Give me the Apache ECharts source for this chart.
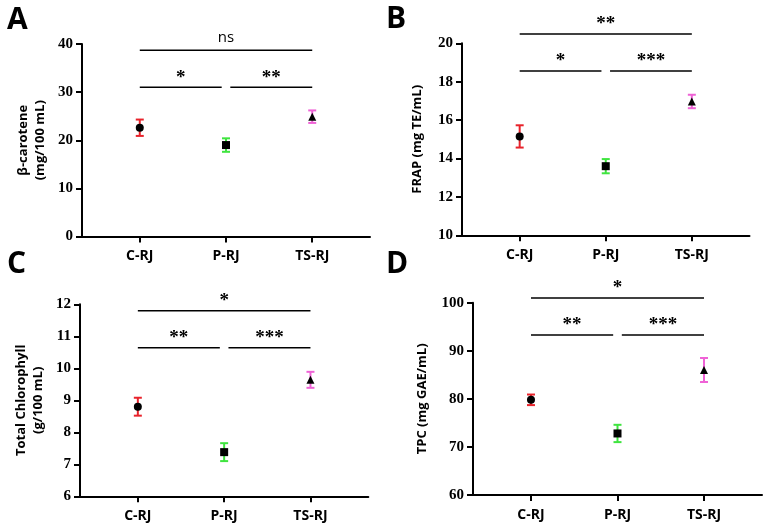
<!DOCTYPE html>
<html>
<head>
<meta charset="utf-8">
<script src="https://cdn.jsdelivr.net/npm/echarts@6/dist/echarts.min.js"></script>
<style>
  html, body { margin: 0; padding: 0; background: #fff; }
  #chart { width: 767px; height: 529px; }
</style>
</head>
<body>
<div id="chart"></div>
<script>
// groups on the x axis
const categories = ["C-RJ", "P-RJ", "TS-RJ"];

// mean ± error for each panel
const betaMean = [22.6, 19.0, 24.9];
const betaErr = [1.7, 1.4, 1.3];
const frapMean = [15.15, 13.6, 16.97];
const frapErr = [0.58, 0.37, 0.35];
const chlMean = [8.8, 7.38, 9.64];
const chlErr = [0.28, 0.28, 0.25];
const tpcMean = [79.8, 72.8, 86.0];
const tpcErr = [1.1, 1.8, 2.5];

// significance brackets: [fromGroup, toGroup, level]
const betaBrackets = [[1, 3, 38.7], [1, 1.95, 31.0], [2.05, 3, 31.0]];
const betaSig = ["ns", "*", "**"];
const frapBrackets = [[1, 3, 20.48], [1, 1.95, 18.56], [2.05, 3, 18.56]];
const frapSig = ["**", "*", "***"];
const chlBrackets = [[1, 3, 11.8], [1, 1.95, 10.64], [2.05, 3, 10.64]];
const chlSig = ["*", "**", "***"];
const tpcBrackets = [[1, 3, 101.0], [1, 1.95, 93.3], [2.05, 3, 93.3]];
const tpcSig = ["*", "**", "***"];

const ERR_COLORS = ["#e8232b", "#3fe43f", "#ef62d6"];
const SYMBOLS = ["circle", "rect", "triangle"];

const panels = [
  { letter: "A", name: "β-carotene\n(mg/100 mL)", mean: betaMean, err: betaErr,
    brackets: betaBrackets, sig: betaSig, min: 0, max: 40, interval: 10,
    grid: { left: 82, top: 44, width: 288, height: 192.5 }, nameGap: 33, lx: 7, ly: 5 },
  { letter: "B", name: "FRAP (mg TE/mL)", mean: frapMean, err: frapErr,
    brackets: frapBrackets, sig: frapSig, min: 10, max: 20, interval: 2,
    grid: { left: 462, top: 43.3, width: 287.5, height: 192 }, nameGap: 36, lx: 386, ly: 4 },
  { letter: "C", name: "Total Chlorophyll\n(g/100 mL)", mean: chlMean, err: chlErr,
    brackets: chlBrackets, sig: chlSig, min: 6, max: 12, interval: 1,
    grid: { left: 80, top: 304.3, width: 288.3, height: 192 }, nameGap: 33, lx: 7, ly: 249 },
  { letter: "D", name: "TPC (mg GAE/mL)", mean: tpcMean, err: tpcErr,
    brackets: tpcBrackets, sig: tpcSig, min: 60, max: 100, interval: 10,
    grid: { left: 473, top: 302.7, width: 289, height: 192.3 }, nameGap: 42, lx: 386, ly: 249 },
];

const grids = [], xAxes = [], yAxes = [], series = [], graphics = [];

panels.forEach((p, i) => {
  grids.push(p.grid);

  xAxes.push({
    gridIndex: i,
    type: "value",
    min: 0.33,
    max: 3.67,
    axisLine: { lineStyle: { color: "#000", width: 2 } },
    axisTick: { customValues: [1, 2, 3], length: 6, lineStyle: { color: "#000", width: 2 } },
    axisLabel: {
      customValues: [1, 2, 3],
      formatter: (v) => categories[Math.round(v) - 1],
      color: "#000",
      fontFamily: "Open Sans",
      fontWeight: "bold",
      fontSize: 14,
      margin: 13,
    },
    splitLine: { show: false },
  });

  yAxes.push({
    gridIndex: i,
    type: "value",
    min: p.min,
    max: p.max,
    interval: p.interval,
    name: p.name,
    nameLocation: "middle",
    nameRotate: 90,
    nameGap: p.nameGap,
    nameTextStyle: {
      color: "#000",
      fontFamily: "Open Sans",
      fontWeight: "bold",
      fontSize: 13,
      lineHeight: 17,
    },
    axisLine: { show: true, lineStyle: { color: "#000", width: 2 } },
    axisTick: { show: true, length: 6, lineStyle: { color: "#000", width: 2 } },
    axisLabel: {
      color: "#000",
      fontFamily: "Liberation Serif",
      fontWeight: "bold",
      fontSize: 15,
      margin: 9,
    },
    splitLine: { show: false },
  });

  // error bars
  series.push({
    type: "custom",
    xAxisIndex: i,
    yAxisIndex: i,
    data: p.mean.map((m, k) => [k + 1, m - p.err[k], m + p.err[k]]),
    encode: { x: 0, y: [1, 2] },
    z: 2,
    renderItem: (params, api) => {
      const x = api.value(0);
      const lo = api.coord([x, api.value(1)]);
      const hi = api.coord([x, api.value(2)]);
      const style = { stroke: ERR_COLORS[params.dataIndex], lineWidth: 2 };
      const w = 4;
      return {
        type: "group",
        children: [
          { type: "line", shape: { x1: lo[0], y1: lo[1], x2: hi[0], y2: hi[1] }, style },
          { type: "line", shape: { x1: lo[0] - w, y1: lo[1], x2: lo[0] + w, y2: lo[1] }, style },
          { type: "line", shape: { x1: hi[0] - w, y1: hi[1], x2: hi[0] + w, y2: hi[1] }, style },
        ],
      };
    },
  });

  // means
  series.push({
    type: "scatter",
    xAxisIndex: i,
    yAxisIndex: i,
    z: 3,
    symbolSize: 8,
    itemStyle: { color: "#000", opacity: 1 },
    data: p.mean.map((m, k) => ({ value: [k + 1, m], symbol: SYMBOLS[k] })),
  });

  // significance brackets
  series.push({
    type: "custom",
    xAxisIndex: i,
    yAxisIndex: i,
    clip: false,
    data: p.brackets,
    encode: { x: [0, 1], y: 2 },
    renderItem: (params, api) => {
      const a = api.coord([api.value(0), api.value(2)]);
      const b = api.coord([api.value(1), api.value(2)]);
      const txt = p.sig[params.dataIndex];
      const isNs = txt === "ns";
      return {
        type: "group",
        children: [
          { type: "line", shape: { x1: a[0], y1: a[1], x2: b[0], y2: b[1] },
            style: { stroke: "#000", lineWidth: 1.5 } },
          { type: "text",
            style: {
              x: (a[0] + b[0]) / 2,
              y: a[1] - (isNs ? 5 : 0),
              text: txt,
              fill: "#000",
              align: "center",
              verticalAlign: "bottom",
              font: isNs ? "15px 'Open Sans'" : "bold 19px 'Liberation Serif'",
            } },
        ],
      };
    },
  });

  graphics.push({
    type: "text",
    left: p.lx,
    top: p.ly,
    style: { text: p.letter, font: "bold 30px 'Open Sans'", fill: "#000" },
  });
});

const chart = echarts.init(document.getElementById("chart"));
chart.setOption({
  animation: false,
  backgroundColor: "#fff",
  grid: grids,
  xAxis: xAxes,
  yAxis: yAxes,
  series,
  graphic: graphics,
});
</script>
</body>
</html>
